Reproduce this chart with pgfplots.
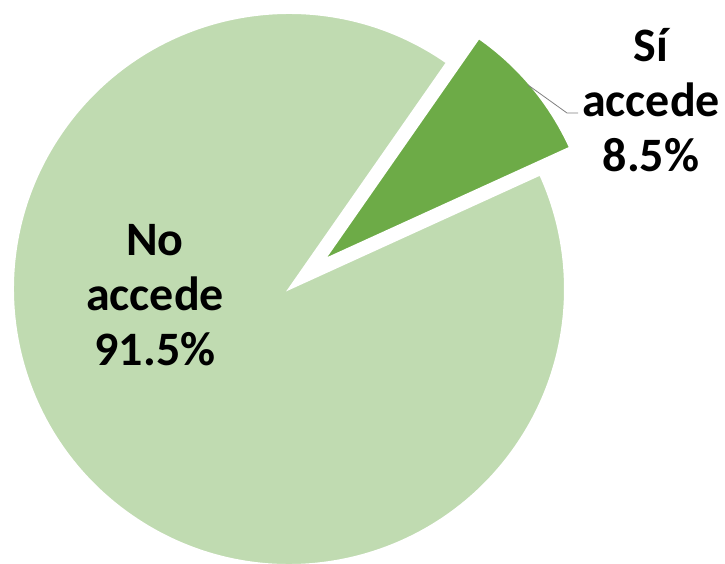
\documentclass[border=0pt]{standalone}
\usepackage{pgfplots}
\pgfplotsset{compat=1.18}
\usepackage{pgfplotstable}
\usepackage{fontspec}
\setmainfont{Carlito}
\usetikzlibrary{calc}

\definecolor{nocol}{HTML}{C0DBB1}
\definecolor{sicol}{HTML}{6DAB47}

% share of each answer, in percent
\pgfplotstableread{
label value
No 91.5
Si 8.5
}\piedata

\begin{document}
\begin{tikzpicture}
\pgfplotstablegetelem{1}{value}\of\piedata
\pgfmathsetmacro{\siang}{\pgfplotsretval*3.6}
\pgfmathsetmacro{\sistart}{24.5}
\pgfmathsetmacro{\siend}{\sistart+\siang}
\pgfmathsetmacro{\simid}{\sistart+\siang/2}
\pgfmathsetmacro{\noend}{\sistart+360}
\begin{axis}[
    width=725pt, height=563pt, scale only axis,
    xmin=0, xmax=725, ymin=0, ymax=563,
    hide axis, clip=false,
  ]
  % No accede
  \filldraw[fill=nocol, draw=white, line width=2pt]
    (axis cs:289,274) -- ++(\siend:276pt)
    arc[start angle=\siend, end angle=\noend, radius=276pt] -- cycle;
  % Si accede (exploded)
  \filldraw[fill=sicol, draw=white, line width=2pt]
    ($(axis cs:289,274)+(\simid:46pt)$) -- ++(\sistart:270pt)
    arc[start angle=\sistart, end angle=\siend, radius=270pt] -- cycle;
  % leader line
  \draw[gray, line width=0.8pt] (axis cs:528,478) -- (axis cs:567,450) -- (axis cs:578,450);
  \node[font=\bfseries\fontsize{48}{55}\selectfont, align=center, inner sep=0pt] at (axis cs:155,268) {No\\accede\\91.5\%};
  \node[font=\bfseries\fontsize{48}{55}\selectfont, align=center, inner sep=0pt] at (axis cs:651,463) {Sí\\accede\\8.5\%};
\end{axis}
\pgfresetboundingbox
\path (current axis.south west) rectangle (current axis.north east);
\end{tikzpicture}
\end{document}
